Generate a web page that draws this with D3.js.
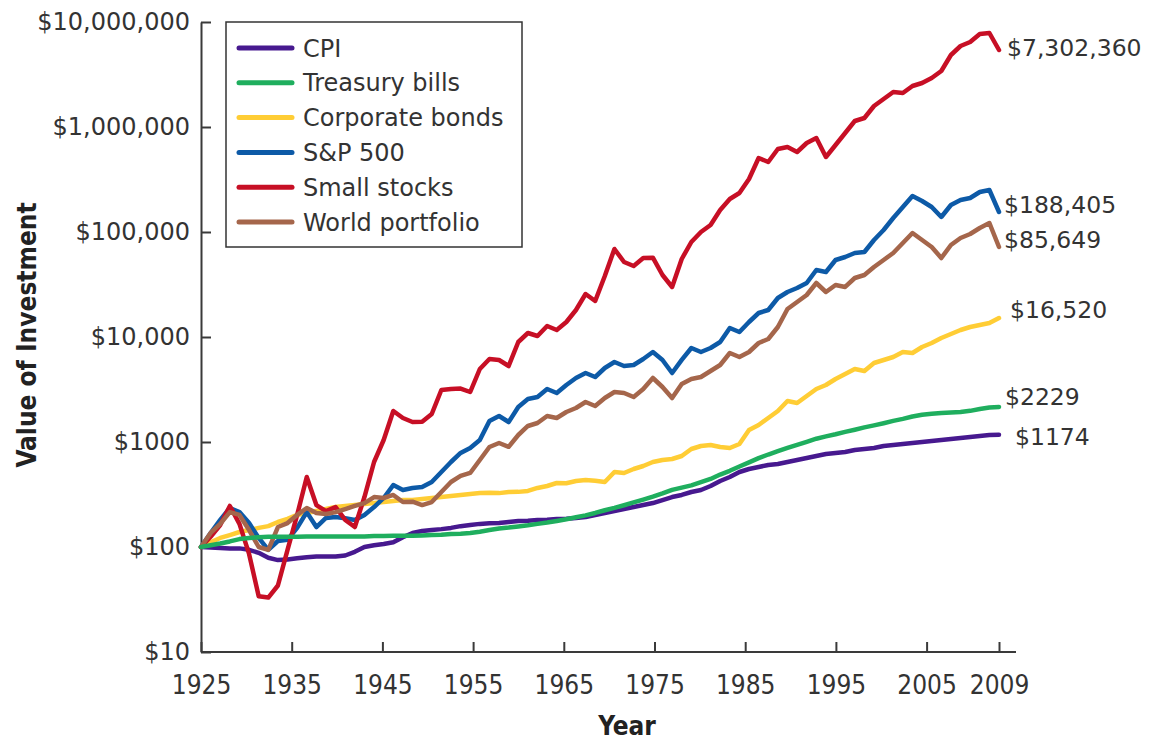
<!DOCTYPE html>
<meta charset="utf-8">
<style>
body {
    margin: 0;
    background: #fff;
}
svg {
    display: block;
}
.axis path,
.axis line {
    stroke: #3a3a3a;
    stroke-width: 2px;
}
.axis text {
    fill: #333;
}
.y-axis text {
    font-family: "DejaVu Sans", sans-serif;
    font-size: 24px;
}
.x-axis text {
    font-family: "Liberation Sans Narrow", "DejaVu Sans Condensed", sans-serif;
    font-size: 26px;
}
.axis-title {
    font-family: "Liberation Sans Narrow", "DejaVu Sans Condensed", sans-serif;
    font-weight: bold;
    font-size: 26px;
    fill: #222;
}
.series path {
    fill: none;
    stroke-width: 4.5px;
    stroke-linejoin: round;
    stroke-linecap: round;
}
.legend rect {
    fill: #fff;
    stroke: #333;
    stroke-width: 1.5px;
}
.legend line {
    stroke-width: 5px;
    stroke-linecap: round;
}
.legend text,
.end-labels text {
    font-family: "DejaVu Sans", sans-serif;
    fill: #333;
}
.legend text {
    font-size: 24px;
}
.end-labels text {
    font-size: 23.5px;
}
</style>

<svg id="chart" width="1151" height="742"></svg>

<script src="https://cdn.jsdelivr.net/npm/d3@7"></script>
<script>
    // value of $100 invested at the end of 1925
    var years = d3.range(1925, 2009);

    var cpi = [
        100, 99, 98, 97, 97, 94, 88, 79, 75, 76,
        78, 80, 81, 81, 81, 83, 90, 100, 104, 107,
        111, 124, 136, 142, 145, 148, 152, 158, 162, 166,
        168, 169, 173, 177, 178, 181, 182, 185, 186, 189,
        193, 202, 211, 220, 230, 240, 251, 262, 280, 299,
        313, 334, 349, 381, 425, 464, 518, 553, 578, 604,
        617, 645, 674, 704, 736, 769, 786, 803, 839, 858,
        877, 916, 936, 957, 978, 1000, 1022, 1045, 1068, 1092,
        1116, 1141, 1166, 1170
    ];
    var tBills = [
        100, 104, 108, 113, 119, 122, 124, 125, 125, 125,
        125, 126, 126, 126, 126, 126, 126, 126, 127, 127,
        128, 128, 128, 129, 130, 131, 133, 134, 136, 140,
        145, 150, 153, 157, 161, 166, 171, 177, 184, 192,
        200, 211, 224, 236, 250, 266, 283, 302, 324, 350,
        368, 386, 414, 445, 490, 532, 585, 640, 702, 760,
        818, 878, 940, 1005, 1075, 1130, 1185, 1250, 1310, 1378,
        1440, 1510, 1590, 1660, 1750, 1820, 1860, 1890, 1910, 1935,
        1980, 2060, 2130, 2160
    ];
    var corpBonds = [
        100, 111, 122, 130, 139, 145, 152, 158, 173, 185,
        202, 211, 220, 230, 240, 246, 251, 257, 262, 268,
        274, 280, 281, 287, 293, 299, 306, 313, 320, 327,
        328, 326, 334, 335, 342, 365, 381, 407, 405, 425,
        435, 428, 416, 518, 507, 553, 591, 645, 674, 689,
        736, 858, 916, 936, 896, 877, 957, 1301, 1452, 1693,
        1974, 2458, 2352, 2742, 3197, 3490, 3981, 4443, 4958, 4746,
        5655, 6040, 6449, 7197, 7041, 8031, 8768, 9783, 10680, 11660,
        12450, 13010, 13590, 15170
    ];
    var sp500 = [
        100, 136, 181, 235, 215, 169, 122, 94, 114, 117,
        152, 215, 155, 189, 193, 188, 181, 202, 240, 293,
        389, 349, 365, 373, 416, 518, 645, 786, 877, 1045,
        1585, 1768, 1550, 2154, 2568, 2683, 3197, 2929, 3490, 4070,
        4541, 4159, 5068, 5778, 5293, 5412, 6172, 7197, 6040, 4541,
        6050, 7858, 7200, 7860, 8961, 12180, 11160, 13900, 16930, 18080,
        23520, 26830, 29290, 32690, 43460, 41590, 54120, 57780, 63100, 64470,
        83900, 104500, 135900, 173000, 220300, 197400, 173100, 139000, 180700, 201700,
        210800, 240400, 251200, 155000
    ];
    var smallStocks = [
        100, 125, 162, 246, 166, 86, 34, 33, 43, 94,
        202, 464, 251, 220, 240, 181, 155, 299, 645, 1045,
        1974, 1693, 1550, 1560, 1848, 3128, 3197, 3230, 2994, 4958,
        6172, 6040, 5293, 8961, 10920, 10220, 12730, 11660, 13900, 18080,
        25680, 22030, 38110, 68890, 51800, 47460, 56550, 57000, 38950, 29950,
        55330, 80300, 100000, 116600, 162000, 206200, 235200, 319700, 506800, 464200,
        617200, 644800, 577800, 704100, 785800, 518000, 674000, 876800, 1140500, 1218000,
        1585000, 1848000, 2154000, 2108000, 2458000, 2624000, 2929000, 3415000, 4850000, 5907000,
        6449000, 7687000, 7857000, 5412000
    ];
    var worldPortfolio = [
        100, 136, 166, 215, 202, 145, 100, 94, 155, 169,
        202, 235, 211, 206, 215, 230, 246, 262, 299, 293,
        313, 268, 270, 251, 268, 334, 416, 475, 507, 674,
        896, 978, 900, 1166, 1421, 1517, 1768, 1693, 1931, 2108,
        2404, 2203, 2624, 2994, 2929, 2683, 3197, 4070, 3340, 2624,
        3567, 3981, 4159, 4746, 5412, 7041, 6449, 7197, 8768, 9572,
        12450, 18480, 21540, 25120, 32690, 26830, 31280, 29950, 36470, 38950,
        46420, 54120, 63100, 78580, 97830, 83900, 71970, 56550, 75200, 87680,
        95720, 109200, 121800, 72000
    ];

    var seriesNames = ["CPI", "Treasury bills", "Corporate bonds", "S&P 500", "Small stocks", "World portfolio"];
    var endLabels = ["$1174", "$2229", "$16,520", "$188,405", "$7,302,360", "$85,649"];

    var yTicks = [10, 100, 1000, 10000, 100000, 1000000, 10000000];
    var yTickLabels = ["$10", "$100", "$1000", "$10,000", "$100,000", "$1,000,000", "$10,000,000"];
    var xTicks = [1925, 1935, 1945, 1955, 1965, 1975, 1985, 1995, 2005, 2009];

    var colors = ["#47198f", "#1fae5e", "#ffcd35", "#0d5aa7", "#c70f25", "#a5664b"];
    // legend order differs from drawing order
    var drawOrder = [0, 2, 3, 4, 5, 1];
    // nudges for the end labels: [dx, dy]
    var labelNudge = [[16, 2], [6, -10], [11, -8], [5, -7], [8, -2], [5, -7]];

    var series = [cpi, tBills, corpBonds, sp500, smallStocks, worldPortfolio];

    var svg = d3.select("#chart");

    var plotLeft = 201, plotRight = 999, plotTop = 22, plotBottom = 652;

    var x = d3.scaleLinear()
              .domain([1925, 2008])
              .range([plotLeft, plotRight]);
    // the printed tick marks are spaced a bit tighter than the data
    var xTick = d3.scaleLinear()
                  .domain([1925, 2005, 2009])
                  .range([plotLeft, 926.6, plotRight]);
    var y = d3.scaleLog()
              .domain([10, 10000000])
              .range([plotBottom, plotTop]);

    var line = d3.line()
                 .x(function(d) { return x(d[0]); })
                 .y(function(d) { return y(d[1]); });

    svg.append("g")
       .attr("class", "axis y-axis")
       .attr("transform", "translate(" + plotLeft + ",0)")
       .call(d3.axisLeft(y)
               .tickValues(yTicks)
               .tickFormat(function(d, i) { return yTickLabels[i]; })
               .tickSizeInner(-10)
               .tickSizeOuter(0)
               .tickPadding(11));

    var xAxis = svg.append("g")
       .attr("class", "axis x-axis")
       .attr("transform", "translate(0," + plotBottom + ")")
       .call(d3.axisBottom(xTick)
               .tickValues(xTicks)
               .tickFormat(d3.format("d"))
               .tickSizeInner(-10)
               .tickSizeOuter(0)
               .tickPadding(24));
    xAxis.select(".domain").attr("d", "M" + plotLeft + ",0H" + (plotRight + 17));

    svg.append("text")
       .attr("class", "axis-title")
       .attr("transform", "translate(36,335) rotate(-90)")
       .attr("text-anchor", "middle")
       .text("Value of Investment");

    svg.append("text")
       .attr("class", "axis-title")
       .attr("x", 627)
       .attr("y", 735)
       .attr("text-anchor", "middle")
       .text("Year");

    svg.append("g")
       .attr("class", "series")
       .selectAll("path")
       .data(drawOrder)
       .enter().append("path")
       .attr("stroke", function(k) { return colors[k]; })
       .attr("d", function(k) {
           return line(series[k].map(function(v, i) { return [years[i], v]; }));
       });

    svg.append("g")
       .attr("class", "end-labels")
       .selectAll("text")
       .data(series)
       .enter().append("text")
       .attr("x", function(d, i) { return x(years[d.length - 1]) + labelNudge[i][0]; })
       .attr("y", function(d, i) { return y(d[d.length - 1]) + labelNudge[i][1]; })
       .attr("dy", "0.36em")
       .text(function(d, i) { return endLabels[i]; });

    var legend = svg.append("g")
       .attr("class", "legend")
       .attr("transform", "translate(226,22)");

    legend.append("rect")
          .attr("width", 296)
          .attr("height", 225);

    var rows = legend.selectAll("g")
       .data(seriesNames)
       .enter().append("g")
       .attr("transform", function(d, i) { return "translate(0," + (26 + i * 34.8) + ")"; });

    rows.append("line")
        .attr("x1", 13)
        .attr("x2", 66)
        .attr("stroke", function(d, i) { return colors[i]; });

    rows.append("text")
        .attr("x", 77)
        .attr("dy", "0.36em")
        .text(function(d) { return d; });
</script>
